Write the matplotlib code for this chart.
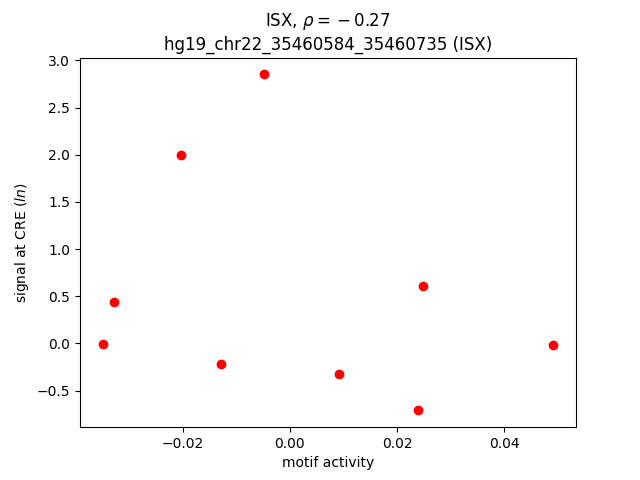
import matplotlib
matplotlib.use("Agg")
import matplotlib.pyplot as plt

motif_activity = [-0.03495, -0.0329, -0.02037, -0.0129, -0.00486, 0.00916, 0.0239, 0.02486, 0.04916]
signal = [-0.01, 0.435, 1.993, -0.223, 2.852, -0.329, -0.71, 0.604, -0.021]

fig, ax = plt.subplots(figsize=(6.4, 4.8), dpi=100)
ax.scatter(motif_activity, signal, color="red")
ax.set_title("ISX, $\\rho = {} - 0.27$\nhg19_chr22_35460584_35460735 (ISX)")
ax.set_xlabel("motif activity")
ax.set_ylabel("signal at CRE ($ln$)")
fig.savefig("out.png")
